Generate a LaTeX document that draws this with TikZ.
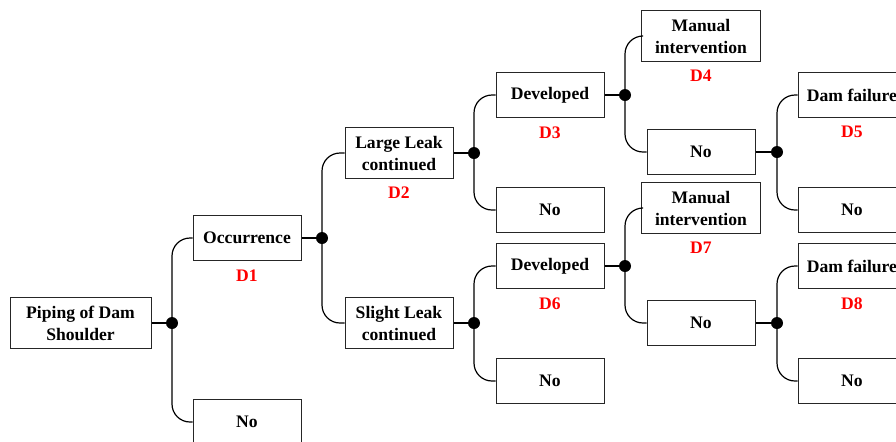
\documentclass[tikz,border=0pt]{standalone}
\usepackage{fontspec}
\setmainfont{Liberation Serif}
\usetikzlibrary{positioning}
\begin{document}
\begin{tikzpicture}[x=0.5pt,y=-0.5pt,
eventnode/.style={draw=black!85, line width=0.5pt, minimum width=54pt, minimum height=22.5pt, inner xsep=2pt, inner ysep=4pt, align=center, font=\fontsize{8.8}{11}\selectfont\bfseries},
probnode/.style={red, inner sep=0pt, font=\fontsize{8.8}{11}\selectfont\bfseries},
dotnode/.style={circle, fill, inner sep=0pt, minimum size=6pt},
stubline/.style={line width=1pt},
branchline/.style={line width=0.6pt, rounded corners=9pt},
]
    \useasboundingbox (0,0) rectangle (896,441);
    % event tree
    \node[eventnode, minimum width=70.5pt](piping) at (80.5,323) {Piping of Dam\\Shoulder};
    \node[dotnode](j1) at (172,323) {};
    \node[eventnode](occur) at (247,238) {Occurrence};
    \node[probnode, below=4pt of occur](d1) {D1};
    \node[eventnode](no1) at (247,422) {No};
    \node[dotnode](j2) at (322,238) {};
    \node[eventnode](large) at (399,153) {Large Leak\\continued};
    \node[probnode, below=4pt of large](d2) {D2};
    \node[eventnode](slight) at (399,323) {Slight Leak\\continued};
    \node[dotnode](j3) at (474,153) {};
    \node[dotnode](j6) at (474,323) {};
    \node[eventnode](devA) at (550,95) {Developed};
    \node[probnode, below=4pt of devA](d3) {D3};
    \node[eventnode](noA) at (550,210) {No};
    \node[eventnode](devB) at (550,266) {Developed};
    \node[probnode, below=4pt of devB](d6) {D6};
    \node[eventnode](noB) at (550,381) {No};
    \node[dotnode](j4) at (625,95) {};
    \node[dotnode](j7) at (625,266) {};
    \node[eventnode, minimum width=59.5pt](manA) at (701,36) {Manual\\intervention};
    \node[probnode, below=4pt of manA](d4) {D4};
    \node[eventnode](noC) at (701,152) {No};
    \node[eventnode, minimum width=59.5pt](manB) at (701,208) {Manual\\intervention};
    \node[probnode, below=4pt of manB](d7) {D7};
    \node[eventnode](noD) at (701,323) {No};
    \node[dotnode](j5) at (777,152) {};
    \node[dotnode](j8) at (777,323) {};
    \node[eventnode](damA) at (852,95) {Dam failure};
    \node[probnode, below=4pt of damA](d5) {D5};
    \node[eventnode](noE) at (852,210) {No};
    \node[eventnode](damB) at (852,266) {Dam failure};
    \node[probnode, below=4pt of damB](d8) {D8};
    \node[eventnode](noF) at (852,381) {No};
    % branches
    \foreach \p/\j/\a/\b in {piping/j1/occur/no1, occur/j2/large/slight, large/j3/devA/noA, slight/j6/devB/noB, devA/j4/manA/noC, devB/j7/manB/noD, noC/j5/damA/noE, noD/j8/damB/noF} {
        \draw[stubline] (\p) -- (\j);
        \draw[branchline] (\j.center) |- (\a.west);
        \draw[branchline] (\j.center) |- (\b.west);
    }
\end{tikzpicture}
\end{document}
